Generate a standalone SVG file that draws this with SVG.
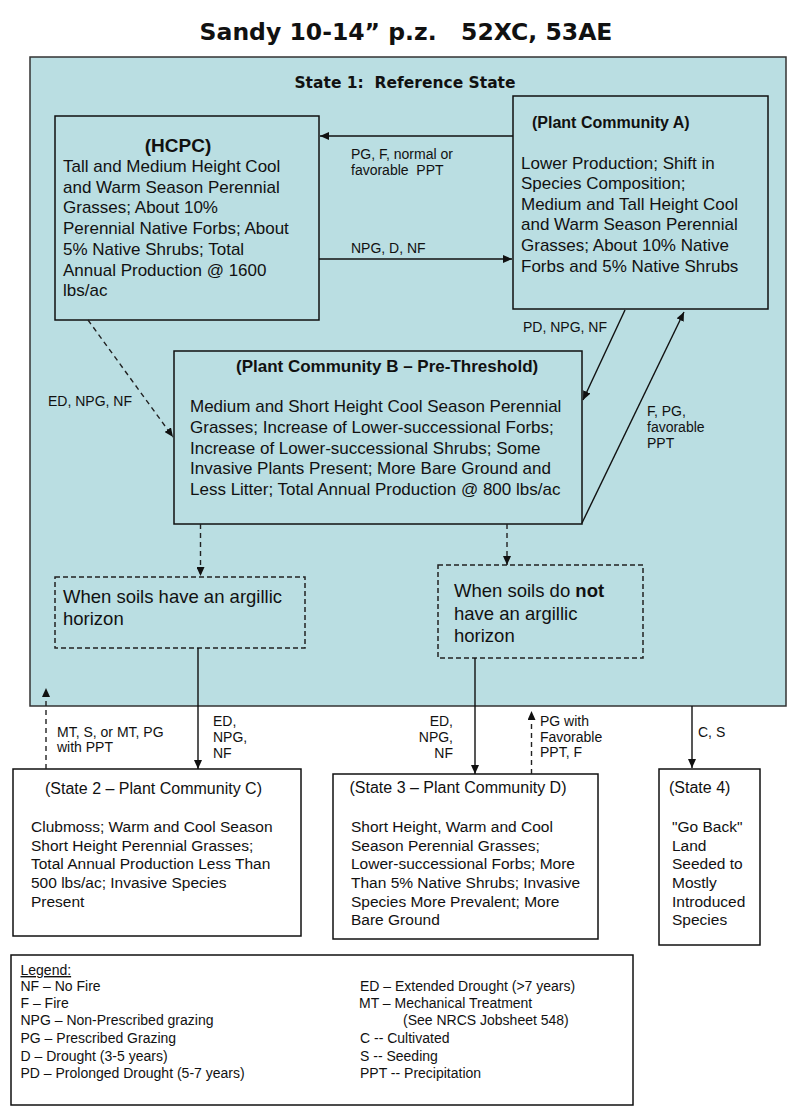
<svg xmlns="http://www.w3.org/2000/svg" width="800" height="1115" viewBox="0 0 800 1115">
<style>
  text { font-family: "Liberation Sans", Arial, sans-serif; fill: #111; }
  .title { font-family: "DejaVu Sans", "Liberation Sans", sans-serif; font-weight: bold; font-size: 23.5px; }
  .stitle { font-family: "DejaVu Sans", "Liberation Sans", sans-serif; font-weight: bold; font-size: 15.5px; }
  .hd { font-weight: bold; font-size: 16px; }
  .body { font-size: 17px; }
  .arg { font-size: 18.5px; }
  .sm { font-size: 14px; }
  .st { font-size: 16px; }
  .sb { font-size: 15.5px; }
  .lg { font-size: 14px; }
  .box { fill: none; stroke: #111; stroke-width: 1.5; }
  .wbox { fill: #fff; stroke: #111; stroke-width: 1.5; }
  .dbox { fill: none; stroke: #222; stroke-width: 1.5; stroke-dasharray: 5 3; }
  .ln { fill: none; stroke: #111; stroke-width: 1.4; }
  .dl { fill: none; stroke: #222; stroke-width: 1.4; stroke-dasharray: 5 4; }
</style>
<defs>
  <marker id="ah" markerUnits="userSpaceOnUse" markerWidth="10" markerHeight="8" refX="9" refY="4" orient="auto">
    <path d="M0,0 L9,4 L0,8 z" fill="#111"/>
  </marker>
</defs>

<rect width="800" height="1115" fill="#fff"/>

<text class="title" x="406" y="40" text-anchor="middle" xml:space="preserve">Sandy 10-14” p.z.   52XC, 53AE</text>

<g id="state1">
  <rect x="30" y="57" width="756" height="649" fill="#badee2" stroke="#333" stroke-width="1.5"/>
  <text class="stitle" x="405" y="88" text-anchor="middle" xml:space="preserve">State 1:  Reference State</text>
</g>

<g id="hcpc">
  <rect class="box" x="55" y="116" width="264" height="204"/>
  <text x="178" y="152" text-anchor="middle" font-weight="bold" font-size="19">(HCPC)</text>
  <text class="body" x="63" y="172">Tall and Medium Height Cool</text>
  <text class="body" x="63" y="192.7">and Warm Season Perennial</text>
  <text class="body" x="63" y="213.4">Grasses; About 10%</text>
  <text class="body" x="63" y="234">Perennial Native Forbs; About</text>
  <text class="body" x="63" y="254.8">5% Native Shrubs; Total</text>
  <text class="body" x="63" y="275.5">Annual Production @ 1600</text>
  <text class="body" x="63" y="296">lbs/ac</text>
</g>

<g id="pcA">
  <rect class="box" x="513" y="96" width="255" height="213"/>
  <text class="hd" x="532" y="128" font-size="15.5">(Plant Community A)</text>
  <text class="body" x="521" y="168.5">Lower Production; Shift in</text>
  <text class="body" x="521" y="189">Species Composition;</text>
  <text class="body" x="521" y="209.7">Medium and Tall Height Cool</text>
  <text class="body" x="521" y="230.3">and Warm Season Perennial</text>
  <text class="body" x="521" y="251">Grasses; About 10% Native</text>
  <text class="body" x="521" y="271.6">Forbs and 5% Native Shrubs</text>
</g>

<g id="pcB">
  <rect class="box" x="174" y="351" width="408" height="173"/>
  <text x="236" y="372" font-weight="bold" font-size="17">(Plant Community B – Pre-Threshold)</text>
  <text class="body" x="190" y="412">Medium and Short Height Cool Season Perennial</text>
  <text class="body" x="190" y="433">Grasses; Increase of Lower-successional Forbs;</text>
  <text class="body" x="190" y="453.5">Increase of Lower-successional Shrubs; Some</text>
  <text class="body" x="190" y="474.3">Invasive Plants Present; More Bare Ground and</text>
  <text class="body" x="190" y="495">Less Litter; Total Annual Production @ 800 lbs/ac</text>
</g>

<g id="argillic">
  <rect class="dbox" x="55" y="577" width="250" height="71"/>
  <text class="arg" x="63" y="603">When soils have an argillic</text>
  <text class="arg" x="63" y="625">horizon</text>
</g>

<g id="noargillic">
  <rect class="dbox" x="438" y="565" width="205" height="93"/>
  <text class="arg" x="454" y="597">When soils do <tspan font-weight="bold">not</tspan></text>
  <text class="arg" x="454" y="620">have an argillic</text>
  <text class="arg" x="454" y="642">horizon</text>
</g>

<g id="state2">
  <rect class="wbox" x="13" y="769" width="288" height="167"/>
  <text class="st" x="45" y="794">(State 2 – Plant Community C)</text>
  <text class="sb" x="31" y="832">Clubmoss; Warm and Cool Season</text>
  <text class="sb" x="31" y="850.7">Short Height Perennial Grasses;</text>
  <text class="sb" x="31" y="869.4">Total Annual Production Less Than</text>
  <text class="sb" x="31" y="888">500 lbs/ac; Invasive Species</text>
  <text class="sb" x="31" y="906.7">Present</text>
</g>

<g id="state3">
  <rect class="wbox" x="333" y="774" width="265" height="165"/>
  <text class="st" x="349.5" y="793">(State 3 – Plant Community D)</text>
  <text class="sb" x="351" y="832">Short Height, Warm and Cool</text>
  <text class="sb" x="351" y="850.7">Season Perennial Grasses;</text>
  <text class="sb" x="351" y="869.4">Lower-successional Forbs; More</text>
  <text class="sb" x="351" y="888">Than 5% Native Shrubs; Invasive</text>
  <text class="sb" x="351" y="906.7">Species More Prevalent; More</text>
  <text class="sb" x="351" y="925.4">Bare Ground</text>
</g>

<g id="state4">
  <rect class="wbox" x="659" y="769" width="101" height="176"/>
  <text class="st" x="669" y="793">(State 4)</text>
  <text class="sb" x="672" y="832">"Go Back"</text>
  <text class="sb" x="672" y="850.7">Land</text>
  <text class="sb" x="672" y="869.4">Seeded to</text>
  <text class="sb" x="672" y="888">Mostly</text>
  <text class="sb" x="672" y="906.7">Introduced</text>
  <text class="sb" x="672" y="925.4">Species</text>
</g>

<g id="legend">
  <rect class="wbox" x="11" y="955" width="622" height="150"/>
  <text class="lg" x="20.5" y="975" text-decoration="underline">Legend:</text>
  <text class="lg" x="20.5" y="991">NF – No Fire</text>
  <text class="lg" x="20.5" y="1008">F – Fire</text>
  <text class="lg" x="20.5" y="1025">NPG – Non-Prescribed grazing</text>
  <text class="lg" x="20.5" y="1043">PG – Prescribed Grazing</text>
  <text class="lg" x="20.5" y="1061">D – Drought (3-5 years)</text>
  <text class="lg" x="20.5" y="1078">PD – Prolonged Drought (5-7 years)</text>
  <text class="lg" x="360" y="991">ED – Extended Drought (&gt;7 years)</text>
  <text class="lg" x="359" y="1008">MT – Mechanical Treatment</text>
  <text class="lg" x="403" y="1025">(See NRCS Jobsheet 548)</text>
  <text class="lg" x="360" y="1043">C -- Cultivated</text>
  <text class="lg" x="360" y="1061">S -- Seeding</text>
  <text class="lg" x="360" y="1078">PPT -- Precipitation</text>
</g>

<g id="connectors">
  <line class="ln" x1="513" y1="136" x2="320" y2="136" marker-end="url(#ah)"/>
  <line class="ln" x1="319" y1="259" x2="512" y2="259" marker-end="url(#ah)"/>
  <line class="dl" x1="88" y1="320" x2="173" y2="437" marker-end="url(#ah)"/>
  <line class="ln" x1="625" y1="310" x2="583" y2="400" marker-end="url(#ah)"/>
  <line class="ln" x1="582" y1="523" x2="684" y2="312" marker-end="url(#ah)"/>
  <line class="dl" x1="200.5" y1="524" x2="200.5" y2="576" marker-end="url(#ah)"/>
  <line class="dl" x1="507" y1="524" x2="507" y2="565" marker-end="url(#ah)"/>
  <line class="ln" x1="198" y1="648" x2="198" y2="769" marker-end="url(#ah)"/>
  <line class="ln" x1="475" y1="658" x2="475" y2="774" marker-end="url(#ah)"/>
  <line class="dl" x1="46" y1="769" x2="46" y2="688" marker-end="url(#ah)"/>
  <line class="dl" x1="531.5" y1="774" x2="531.5" y2="711" marker-end="url(#ah)"/>
  <line class="ln" x1="692" y1="706" x2="692" y2="768" marker-end="url(#ah)"/>

  <text class="sm" x="351" y="159">PG, F, normal or</text>
  <text class="sm" x="351" y="175" xml:space="preserve">favorable  PPT</text>
  <text class="sm" x="351" y="253">NPG, D, NF</text>
  <text class="sm" x="523" y="332">PD, NPG, NF</text>
  <text class="sm" x="48" y="406">ED, NPG, NF</text>
  <text class="sm" x="647" y="416">F, PG,</text>
  <text class="sm" x="647" y="432">favorable</text>
  <text class="sm" x="647" y="448">PPT</text>
  <text class="sm" x="57" y="737">MT, S, or MT, PG</text>
  <text class="sm" x="57" y="751.5">with PPT</text>
  <text class="sm" x="213" y="726">ED,</text>
  <text class="sm" x="213" y="742">NPG,</text>
  <text class="sm" x="213" y="758">NF</text>
  <text class="sm" x="453" y="726" text-anchor="end">ED,</text>
  <text class="sm" x="453" y="742" text-anchor="end">NPG,</text>
  <text class="sm" x="453" y="758" text-anchor="end">NF</text>
  <text class="sm" x="540" y="726">PG with</text>
  <text class="sm" x="540" y="741.5">Favorable</text>
  <text class="sm" x="540" y="757">PPT, F</text>
  <text class="sm" x="698" y="737">C, S</text>
</g>
</svg>
